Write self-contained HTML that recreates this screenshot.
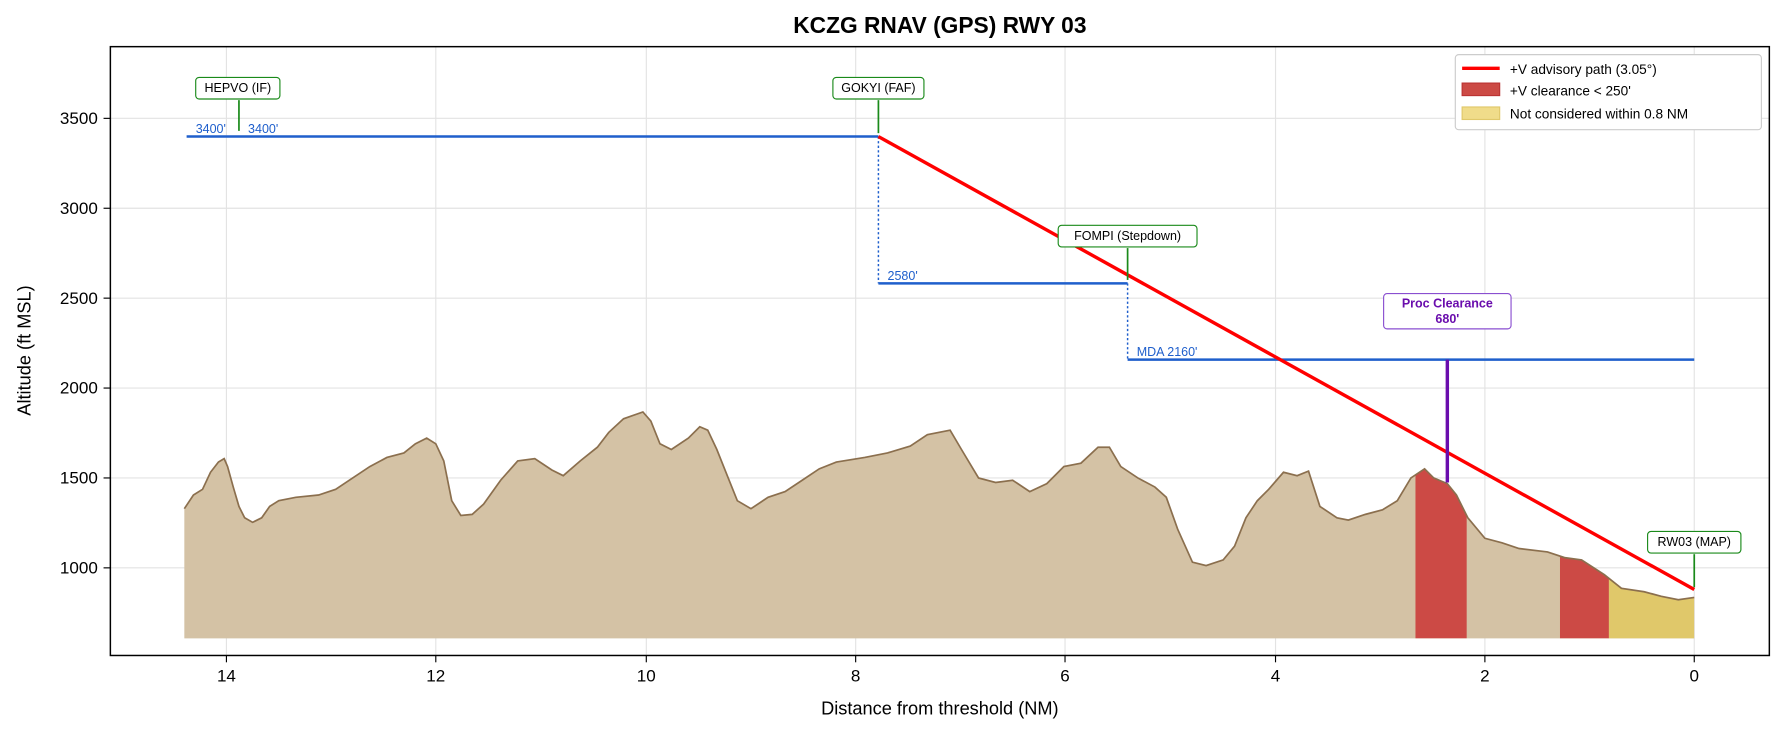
<!DOCTYPE html>
<html><head><meta charset="utf-8"><style>html,body{margin:0;padding:0;background:#fff;width:1783px;height:734px;overflow:hidden}svg{display:block;width:1783px;height:734px;font-family:"Liberation Sans","DejaVu Sans",sans-serif}</style></head><body>
<svg width="1783" height="734" viewBox="0 0 1567 645" preserveAspectRatio="none" xmlns="http://www.w3.org/2000/svg">
<defs><clipPath id="terr"><polygon id="tp" points="162,561 162,447 170,435 178,430 185,415 192,406 197,403 200,410 205,428 210,445 215,455 222,459 230,455 237,445 245,440 260,437 280,435 295,430 310,420 325,410 340,402 355,398 365,390 375,385 383,390 390,405 397,440 405,453 415,452 425,443 440,422 455,405 470,403 485,413 495,418 510,405 525,393 535,380 548,368 565,362 572,370 580,390 590,395 605,385 615,375 622,378 630,395 638,415 648,440 660,447 675,437 690,432 705,422 720,412 735,406 760,402 780,398 800,392 815,382 835,378 845,395 860,420 875,424 890,422 905,432 920,425 935,410 950,407 965,393 975,393 985,410 1000,420 1015,428 1025,437 1035,465 1048,494 1060,497 1075,492 1085,480 1095,455 1105,440 1115,430 1128,415 1140,418 1150,414 1160,445 1175,455 1185,457 1200,452 1215,448 1228,440 1240,420 1252,412 1260,420 1272,425 1280,435 1290,455 1305,473 1320,477 1335,482 1360,485 1375,490 1390,492 1410,505 1425,517 1445,520 1460,524 1475,527 1489,525 1489,561"/></clipPath></defs>
<text x="826" y="29" text-anchor="middle" font-size="20" font-weight="bold">KCZG  RNAV (GPS) RWY 03</text>
<g stroke="#e3e3e3" stroke-width="1">
<line x1="199" y1="41" x2="199" y2="576"/><line x1="383" y1="41" x2="383" y2="576"/><line x1="568" y1="41" x2="568" y2="576"/><line x1="752" y1="41" x2="752" y2="576"/><line x1="936" y1="41" x2="936" y2="576"/><line x1="1121" y1="41" x2="1121" y2="576"/><line x1="1305" y1="41" x2="1305" y2="576"/><line x1="1489" y1="41" x2="1489" y2="576"/>
<line x1="97" y1="104" x2="1555" y2="104"/><line x1="97" y1="183" x2="1555" y2="183"/><line x1="97" y1="262" x2="1555" y2="262"/><line x1="97" y1="341" x2="1555" y2="341"/><line x1="97" y1="420" x2="1555" y2="420"/><line x1="97" y1="499" x2="1555" y2="499"/>
</g>
<use href="#tp" fill="#d4c2a5" stroke="none"/>
<g clip-path="url(#terr)">
<rect x="1244" y="380" width="45" height="190" fill="#cc4a45"/>
<rect x="1371" y="380" width="43" height="190" fill="#cc4a45"/>
<rect x="1414" y="380" width="75" height="190" fill="#e0c86a"/>
</g>
<polyline fill="none" stroke="#8b6f4e" stroke-width="1.5" points="162,447 170,435 178,430 185,415 192,406 197,403 200,410 205,428 210,445 215,455 222,459 230,455 237,445 245,440 260,437 280,435 295,430 310,420 325,410 340,402 355,398 365,390 375,385 383,390 390,405 397,440 405,453 415,452 425,443 440,422 455,405 470,403 485,413 495,418 510,405 525,393 535,380 548,368 565,362 572,370 580,390 590,395 605,385 615,375 622,378 630,395 638,415 648,440 660,447 675,437 690,432 705,422 720,412 735,406 760,402 780,398 800,392 815,382 835,378 845,395 860,420 875,424 890,422 905,432 920,425 935,410 950,407 965,393 975,393 985,410 1000,420 1015,428 1025,437 1035,465 1048,494 1060,497 1075,492 1085,480 1095,455 1105,440 1115,430 1128,415 1140,418 1150,414 1160,445 1175,455 1185,457 1200,452 1215,448 1228,440 1240,420 1252,412 1260,420 1272,425 1280,435 1290,455 1305,473 1320,477 1335,482 1360,485 1375,490 1390,492 1410,505 1425,517 1445,520 1460,524 1475,527 1489,525"/>
<g stroke="#1f5fcc" stroke-width="2.2"><line x1="164" y1="120" x2="772" y2="120"/><line x1="772" y1="249" x2="991" y2="249"/><line x1="991" y1="316" x2="1489" y2="316"/></g>
<g stroke="#1f5fcc" stroke-width="1.3" stroke-dasharray="2,2"><line x1="772" y1="120" x2="772" y2="249"/><line x1="991" y1="249" x2="991" y2="316"/></g>
<g fill="#1f5fcc" font-size="11"><text x="172" y="117">3400'</text><text x="218" y="117">3400'</text><text x="780" y="246">2580'</text><text x="999" y="313">MDA 2160'</text></g>
<line x1="772" y1="120" x2="1489" y2="518" stroke="#f00" stroke-width="3"/>
<line x1="1272" y1="316" x2="1272" y2="424" stroke="#6a0dad" stroke-width="3"/>
<rect x="1216" y="258" width="112" height="31" rx="3" fill="#fff" stroke="#8a4fd0"/>
<text x="1272" y="270" text-anchor="middle" font-size="11" font-weight="bold" fill="#6a0dad">Proc Clearance</text>
<text x="1272" y="284" text-anchor="middle" font-size="11" font-weight="bold" fill="#6a0dad">680'</text>
<g stroke="#1a8a1a" stroke-width="1.5"><line x1="210" y1="88" x2="210" y2="115"/><line x1="772" y1="88" x2="772" y2="117"/><line x1="991" y1="218" x2="991" y2="246"/><line x1="1489" y1="487" x2="1489" y2="516"/></g>
<g fill="#fff" stroke="#1a8a1a"><rect x="172" y="68" width="74" height="19" rx="3"/><rect x="732" y="68" width="80" height="19" rx="3"/><rect x="930" y="198" width="122" height="19" rx="3"/><rect x="1448" y="467" width="82" height="19" rx="3"/></g>
<g font-size="11" text-anchor="middle"><text x="209" y="81">HEPVO (IF)</text><text x="772" y="81">GOKYI (FAF)</text><text x="991" y="211">FOMPI (Stepdown)</text><text x="1489" y="480">RW03 (MAP)</text></g>
<rect x="97" y="41" width="1458" height="535" fill="none" stroke="#000" stroke-width="1.3"/>
<g stroke="#000"><line x1="199" y1="576" x2="199" y2="582"/><line x1="383" y1="576" x2="383" y2="582"/><line x1="568" y1="576" x2="568" y2="582"/><line x1="752" y1="576" x2="752" y2="582"/><line x1="936" y1="576" x2="936" y2="582"/><line x1="1121" y1="576" x2="1121" y2="582"/><line x1="1305" y1="576" x2="1305" y2="582"/><line x1="1489" y1="576" x2="1489" y2="582"/>
<line x1="91" y1="104" x2="97" y2="104"/><line x1="91" y1="183" x2="97" y2="183"/><line x1="91" y1="262" x2="97" y2="262"/><line x1="91" y1="341" x2="97" y2="341"/><line x1="91" y1="420" x2="97" y2="420"/><line x1="91" y1="499" x2="97" y2="499"/></g>
<g font-size="15" text-anchor="middle"><text x="199" y="599">14</text><text x="383" y="599">12</text><text x="568" y="599">10</text><text x="752" y="599">8</text><text x="936" y="599">6</text><text x="1121" y="599">4</text><text x="1305" y="599">2</text><text x="1489" y="599">0</text></g>
<g font-size="15" text-anchor="end"><text x="86" y="109">3500</text><text x="86" y="188">3000</text><text x="86" y="267">2500</text><text x="86" y="346">2000</text><text x="86" y="425">1500</text><text x="86" y="504">1000</text></g>
<text x="826" y="628" text-anchor="middle" font-size="16">Distance from threshold (NM)</text>
<text transform="translate(27,308) rotate(-90)" text-anchor="middle" font-size="16">Altitude (ft MSL)</text>
<rect x="1279" y="48" width="269" height="66" rx="3" fill="#fff" stroke="#ccc"/>
<line x1="1285" y1="60" x2="1318" y2="60" stroke="#f00" stroke-width="3"/>
<rect x="1285" y="73" width="33" height="11" fill="#cc4a45" stroke="#b33"/>
<rect x="1285" y="94" width="33" height="11" fill="#f0dc8a" stroke="#e0c86a"/>
<g font-size="12"><text x="1327" y="65">+V advisory path (3.05°)</text><text x="1327" y="84">+V clearance &lt; 250'</text><text x="1327" y="104">Not considered within 0.8 NM</text></g>
</svg>
</body></html>
